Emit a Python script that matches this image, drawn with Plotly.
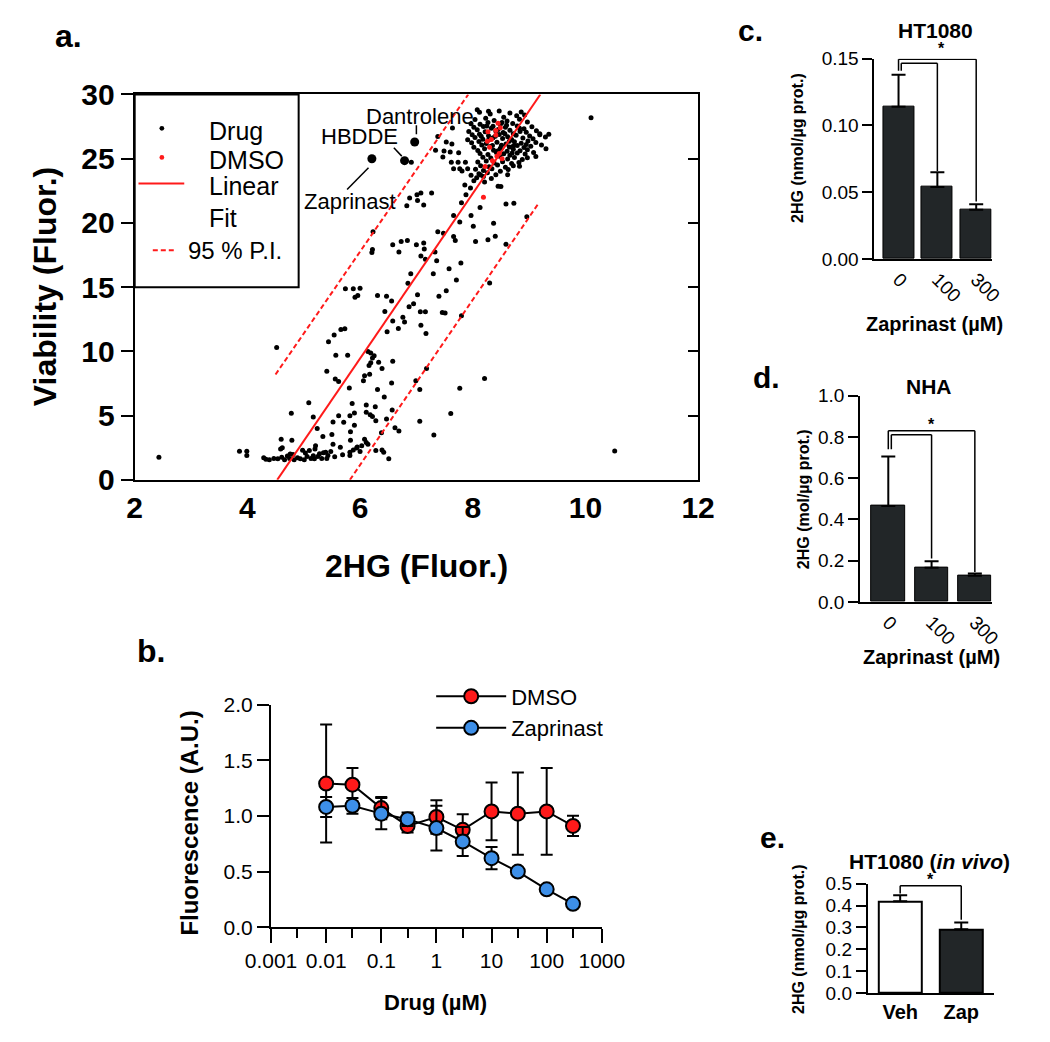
import plotly.graph_objects as go

W, H = 1050, 1042
FONT = "Liberation Sans, Arial, sans-serif"
RED = "#ff1a1a"
BLUE = "#3d8fe8"
DARK = "#222628"


def fx(px):
    return px / W


def fy(py):
    return 1 - py / H


# ---- panel a: screen, 2HG fluorescence vs viability -----------------------------------
drug_x = [
    2.43, 3.86, 3.99, 3.99, 4.29, 4.33, 4.52, 4.60, 4.79, 4.78, 4.59,
    4.39, 4.47, 4.54, 4.61, 4.66, 4.71, 4.75, 4.81, 4.83, 4.89, 4.94, 5.01, 5.06, 5.10,
    5.13, 5.17, 5.19, 5.25, 5.28, 5.32, 5.39, 5.43, 5.41,
    4.62, 4.76, 4.98, 5.03, 5.20, 5.35, 5.48, 5.55,
    5.09, 5.17, 5.24, 5.21, 5.34, 5.50, 5.52, 5.62, 5.71, 5.82, 5.86, 5.81, 5.41, 5.56,
    5.62, 5.57, 5.78, 5.44, 5.54, 5.66, 5.73, 5.52, 5.65, 5.69, 5.82, 5.88, 5.83, 5.83, 5.82,
    5.90, 5.90, 5.94, 5.95, 6.00, 6.03,
    6.08, 6.11, 6.14, 6.06, 6.08, 6.17, 6.16, 6.19, 6.22, 6.25, 6.14, 6.19, 6.33, 6.39,
    6.58, 6.11, 6.11, 6.18, 6.22, 6.27, 6.28, 6.31, 6.43, 6.47, 6.56, 6.57, 6.38, 6.39,
    6.28, 6.42, 6.51, 6.62, 6.69,
    6.99, 7.06, 7.18, 7.06, 7.31, 7.61, 7.77, 8.21,
    6.83, 7.02, 7.13, 7.08, 7.27, 6.23, 6.22, 6.21, 6.58, 6.73, 6.84, 6.69, 7.00, 7.13,
    7.14, 7.08, 7.16, 7.33, 7.36, 7.38, 7.48, 7.66, 7.69, 8.05, 8.27, 7.66, 7.77, 7.80,
    7.88, 7.97, 8.01, 8.13, 7.58, 7.79, 7.30, 6.90, 6.85, 7.71, 7.53, 7.40, 7.02, 6.95,
    6.87, 7.07, 7.16, 7.46, 7.51, 7.80, 6.31, 6.47, 6.56, 6.44, 6.58, 6.76, 6.79, 6.68,
    6.48, 7.08, 7.17, 5.74, 5.88, 6.00, 5.91, 5.96,
    8.96, 8.59, 8.73, 8.37, 8.40, 8.59, 8.30,
    6.91, 7.38, 7.53, 7.34, 7.49, 7.63, 7.60, 7.75, 7.47, 7.62, 7.74, 7.87, 7.66, 7.77,
    7.91, 7.97, 7.86, 7.96, 6.88, 7.01, 7.64, 7.81,
    8.08, 8.28, 8.86, 10.10, 10.52, 9.35, 9.19, 9.30, 9.12, 8.83, 8.62, 8.50, 8.14, 8.45,
    # dense cluster of inactive compounds
    8.12, 8.31, 8.47, 8.66, 8.78, 8.55, 8.92, 8.23, 8.04, 8.38, 8.61, 8.83, 8.97, 8.71,
    8.49, 8.27, 8.13, 7.97, 8.02, 8.19, 8.33, 8.58, 8.66, 8.79, 8.91, 9.05, 9.13, 8.95,
    8.84, 8.72, 8.54, 8.41, 8.22, 8.08, 7.93, 7.99, 8.12, 8.28, 8.47, 8.62, 8.77, 9.01,
    9.19, 9.29, 9.07, 8.89, 8.69, 8.53, 8.36, 8.18, 8.04, 7.91, 7.98, 8.11, 8.24, 8.43,
    8.59, 8.74, 8.86, 8.98, 9.12, 9.22, 9.03, 8.91, 8.79, 8.65, 8.51, 8.31, 8.16, 8.02,
    8.09, 8.21, 8.37, 8.49, 8.61, 8.72, 8.84, 8.97, 9.08, 8.93, 8.79, 8.66, 8.55, 8.42,
    8.27, 8.13, 8.18, 8.32, 8.48, 8.62, 8.74, 8.88, 8.97, 8.82, 8.69, 8.53, 8.38, 8.24,
    8.09, 8.14, 8.29, 8.44, 8.58, 8.72, 8.05, 8.19, 8.34, 8.49, 8.63, 8.11, 8.26, 8.41,
    8.07, 8.19, 8.33, 8.02, 8.21,
    8.36, 8.45, 8.57, 8.65, 8.35, 8.45, 8.72, 8.28, 8.83, 8.52, 8.95, 8.40, 8.60, 8.25,
    8.70, 8.15,
]
drug_y = [
    1.77, 2.23, 2.23, 1.90, 1.72, 1.60, 10.30, 3.16, 3.09, 5.19, 2.40,
    1.57, 1.67, 1.65, 1.77, 1.57, 1.85, 1.67, 1.97, 1.57, 1.72, 1.65, 1.57, 1.82, 2.28,
    1.67, 1.87, 1.65, 1.82, 2.03, 1.67, 2.15, 1.90, 1.67,
    2.50, 2.02, 2.30, 2.10, 2.40, 2.12, 2.20, 1.80,
    6.00, 4.89, 4.00, 2.66, 3.37, 3.54, 4.50, 5.00, 4.48, 4.99, 5.95, 7.16, 8.46, 7.85,
    7.65, 9.70, 9.70, 10.76, 11.27, 11.70, 11.77, 2.78, 2.53, 1.95, 2.15, 2.33, 3.09, 3.75, 1.90,
    5.20, 4.25, 2.48, 2.55, 2.20, 2.66,
    3.16, 2.91, 2.78, 7.72, 8.10, 8.23, 8.91, 9.11, 9.49, 9.67, 10.00, 9.87, 9.16, 8.66,
    9.24, 5.82, 5.27, 5.06, 4.94, 5.70, 4.61, 7.04, 6.46, 4.73, 7.54, 5.44, 3.67, 2.33,
    2.28, 2.15, 1.65, 4.05, 3.80,
    7.72, 7.04, 8.66, 4.56, 3.49, 5.16, 7.14, 7.90,
    21.33, 21.75, 21.40, 22.33, 22.33, 19.32, 17.94, 17.69, 18.31, 18.56, 18.63, 17.74, 18.31, 18.44,
    17.98, 17.43, 17.18, 17.74, 17.05, 19.32, 19.19, 18.94, 18.63, 18.56, 18.69, 20.57, 20.07, 21.58,
    22.20, 20.57, 19.74, 21.20, 16.43, 16.88, 16.05, 16.05, 15.30, 15.55, 14.72, 14.29, 14.41, 13.71,
    13.48, 13.08, 13.08, 13.03, 12.98, 12.78, 14.36, 14.29, 13.92, 13.10, 12.36, 12.66, 12.28, 11.78,
    11.53, 12.03, 11.40, 14.87, 14.87, 14.92, 14.22, 14.36,
    20.48, 21.48, 21.53, 19.97, 18.97, 18.34, 15.33,
    24.72, 26.73, 26.30, 25.65, 25.60, 26.15, 25.53, 25.47, 25.13, 24.72, 24.72, 24.72, 24.21, 24.21,
    24.21, 23.71, 22.96, 22.71, 21.95, 22.20, 27.39, 24.05,
    28.82, 28.69, 28.64, 28.18, 2.24, 26.90, 26.86, 25.77, 25.17, 24.41, 23.76, 22.83, 23.74, 22.86,
    28.62, 28.48, 28.71, 28.55, 28.34, 28.22, 28.41, 28.15, 28.05, 27.98, 27.93, 28.08, 27.86, 27.74,
    27.66, 27.81, 27.69, 27.72, 27.45, 27.51, 27.38, 27.44, 27.21, 27.55, 27.33, 27.49, 27.18, 27.05,
    27.12, 26.94, 27.03, 27.15, 27.09, 27.26, 27.11, 26.86, 26.91, 26.79, 26.88, 26.71, 26.82, 26.77,
    26.95, 26.68, 26.56, 26.62, 26.49, 26.58, 26.63, 26.52, 26.66, 26.47, 26.24, 26.33, 26.18, 26.29,
    26.14, 26.31, 26.21, 26.38, 26.27, 26.06, 25.97, 25.88, 26.02, 25.91, 26.04, 25.95, 26.07, 25.89,
    25.64, 25.77, 25.66, 25.81, 25.58, 25.73, 25.62, 25.69, 25.49, 25.36, 25.44, 25.27, 25.39, 25.48,
    25.33, 25.41, 25.12, 25.05, 25.19, 24.98, 25.09, 24.93, 25.07, 24.71, 24.62, 24.77, 24.66, 24.83,
    24.74, 24.45, 24.38, 24.51, 24.33, 24.46, 24.18, 24.09, 24.22, 24.03, 24.15, 23.82, 23.91, 23.76,
    23.52, 23.61, 23.45, 23.28, 23.19,
    27.52, 27.27, 26.95, 26.36, 26.02, 25.62, 25.98, 26.45, 27.38, 27.82, 26.10, 26.75, 27.60, 27.55,
    25.45, 26.75,
]
dmso_x = [8.27, 8.33, 8.41, 8.49, 8.41, 8.26, 8.43, 8.35, 8.52, 8.22, 8.19, 8.45, 8.47, 8.30]
dmso_y = [27.10, 26.50, 27.20, 27.40, 26.85, 26.35, 25.20, 24.85, 25.00, 24.40, 22.00, 27.75, 25.40, 25.90]
hit_names = ["Zaprinast", "HBDDE", "Dantrolene"]
hit_x = [6.21, 6.79, 6.97]
hit_y = [25.00, 24.85, 26.30]
fit_x = [4.53, 9.20]
fit_y = [0.0, 30.0]
pi_upper_x = [4.50, 7.92]
pi_upper_y = [8.2, 30.0]
pi_lower_x = [5.82, 9.18]
pi_lower_y = [0.0, 21.6]

# ---- panel b: dose response ------------------------------------------------------------
dose_um = [0.01, 0.03, 0.1, 0.3, 1, 3, 10, 30, 100, 300]
dmso_mean = [1.29, 1.28, 1.07, 0.91, 0.99, 0.875, 1.04, 1.02, 1.04, 0.91]
dmso_err = [0.53, 0.15, 0.10, 0.06, 0.15, 0.14, 0.26, 0.37, 0.39, 0.09]
zap_mean = [1.08, 1.09, 1.02, 0.97, 0.89, 0.77, 0.62, 0.50, 0.34, 0.21]
zap_err = [0.09, 0.07, 0.14, 0.06, 0.20, 0.13, 0.10, 0.02, 0.03, 0.02]
dose_ticks = [0.001, 0.01, 0.1, 1, 10, 100, 1000]
dose_ticktext = ["0.001", "0.01", "0.1", "1", "10", "100", "1000"]
dose_minor = [0.003, 0.03, 0.3, 3, 30, 300]

# ---- panels c-e: 2HG levels -------------------------------------------------------------
zap_conc = ["0", "100", "300"]
ht1080_2hg = [0.114, 0.054, 0.037]
ht1080_err = [0.024, 0.011, 0.004]
nha_2hg = [0.465, 0.166, 0.127]
nha_err = [0.24, 0.031, 0.010]
invivo_groups = ["Veh", "Zap"]
invivo_2hg = [0.42, 0.292]
invivo_err = [0.027, 0.031]

fig = go.Figure()

# panel a
fig.add_trace(go.Scatter(x=drug_x, y=drug_y, mode="markers", xaxis="x", yaxis="y",
                         marker=dict(color="black", size=5), showlegend=False))
fig.add_trace(go.Scatter(x=fit_x, y=fit_y, mode="lines", xaxis="x", yaxis="y",
                         line=dict(color=RED, width=2), showlegend=False))
for px_, py_ in [(pi_upper_x, pi_upper_y), (pi_lower_x, pi_lower_y)]:
    fig.add_trace(go.Scatter(x=px_, y=py_, mode="lines", xaxis="x", yaxis="y",
                             line=dict(color=RED, width=2, dash="5px,3px"), showlegend=False))
fig.add_trace(go.Scatter(x=dmso_x, y=dmso_y, mode="markers", xaxis="x", yaxis="y",
                         marker=dict(color=RED, size=5), showlegend=False))
fig.add_trace(go.Scatter(x=hit_x, y=hit_y, mode="markers", xaxis="x", yaxis="y",
                         marker=dict(color="black", size=9), showlegend=False))
# right-hand inward ticks of panel a
fig.add_trace(go.Scatter(x=[None], y=[None], xaxis="x", yaxis="y6", showlegend=False))

# panel b
fig.add_trace(go.Scatter(
    x=dose_um, y=dmso_mean, name="DMSO", mode="lines+markers", xaxis="x2", yaxis="y2",
    line=dict(color="black", width=2),
    marker=dict(color=RED, size=14, line=dict(color="black", width=2)),
    error_y=dict(type="data", array=dmso_err, color="black", thickness=2, width=6)))
fig.add_trace(go.Scatter(
    x=dose_um, y=zap_mean, name="Zaprinast", mode="lines+markers", xaxis="x2", yaxis="y2",
    line=dict(color="black", width=2),
    marker=dict(color=BLUE, size=14, line=dict(color="black", width=2)),
    error_y=dict(type="data", array=zap_err, color="black", thickness=2, width=6)))


def bar_err(err):
    return dict(type="data", array=err, arrayminus=[0] * len(err), symmetric=False,
                color="black", thickness=2, width=7)


fig.add_trace(go.Bar(x=[0, 1, 2], y=ht1080_2hg, width=0.8, xaxis="x3", yaxis="y3",
                     marker=dict(color=DARK, line=dict(color="black", width=1)),
                     error_y=bar_err(ht1080_err), showlegend=False))
fig.add_trace(go.Bar(x=[0, 1, 2], y=nha_2hg, width=0.77, xaxis="x4", yaxis="y4",
                     marker=dict(color=DARK, line=dict(color="black", width=1)),
                     error_y=bar_err(nha_err), showlegend=False))
fig.add_trace(go.Bar(x=[0, 1], y=invivo_2hg, width=0.7, xaxis="x5", yaxis="y5",
                     marker=dict(color=["white", DARK], line=dict(color="black", width=2)),
                     error_y=bar_err(invivo_err), showlegend=False))

ax = dict(showline=True, linecolor="black", linewidth=2, showgrid=False, zeroline=False,
          ticks="outside", tickcolor="black", tickwidth=2, ticklen=10)
big_tick = dict(family=FONT, size=30, color="black", weight="bold")
small_tick = dict(family=FONT, size=19, color="black")
b_tick = dict(family=FONT, size=21, color="black")

fig.update_layout(
    width=W, height=H, margin=dict(l=0, r=0, t=0, b=0),
    paper_bgcolor="white", plot_bgcolor="white",
    font=dict(family=FONT, color="black"),
    bargap=0,
    xaxis=dict(ax, domain=[fx(114), fx(705)], range=[2, 12], dtick=2, anchor="y",
               mirror=True, ticks="", tickfont=big_tick),
    yaxis=dict(ax, domain=[fy(478), fy(80)], range=[0, 30], dtick=5, anchor="x",
               mirror=True, ticklen=12, tickfont=big_tick),
    yaxis6=dict(overlaying="y", side="right", anchor="x", range=[0, 30], dtick=5,
                ticks="inside", ticklen=10, tickwidth=2, tickcolor="black",
                showticklabels=False, showgrid=False, zeroline=False, showline=False),
    xaxis2=dict(ax, type="log", domain=[fx(257), fx(604)], range=[-3, 3], anchor="y2",
                tickvals=dose_ticks, ticktext=dose_ticktext, ticklen=14, tickfont=b_tick,
                minor=dict(tickvals=dose_minor, ticks="outside", ticklen=9, tickwidth=2,
                           tickcolor="black")),
    yaxis2=dict(ax, domain=[fy(940), fy(710)], range=[0, 2], dtick=0.5, tickformat=".1f",
                anchor="x2", ticklen=12, tickfont=b_tick),
    xaxis3=dict(ax, domain=[fx(890), fx(1013)], range=[-0.62, 2.4], anchor="y3",
                tickvals=[0, 1, 2], ticktext=zap_conc, tickangle=45, ticks="",
                tickfont=small_tick),
    yaxis3=dict(ax, domain=[fy(250), fy(43)], range=[0, 0.15], dtick=0.05, tickformat=".2f",
                anchor="x3", tickfont=small_tick),
    xaxis4=dict(ax, domain=[fx(875), fx(1013)], range=[-0.65, 2.39], anchor="y4",
                tickvals=[0, 1, 2], ticktext=zap_conc, tickangle=45, ticks="",
                tickfont=small_tick),
    yaxis4=dict(ax, domain=[fy(604), fy(391)], range=[0, 1.0], dtick=0.2, tickformat=".1f",
                anchor="x4", tickfont=small_tick),
    xaxis5=dict(ax, domain=[fx(883), fx(1015)], range=[-0.53, 1.53], anchor="y5",
                tickvals=[0, 1], ticktext=invivo_groups, ticks="",
                tickfont=dict(family=FONT, size=20, color="black", weight="bold")),
    yaxis5=dict(ax, domain=[fy(1008), fy(895)], range=[0, 0.5], dtick=0.1, tickformat=".1f",
                anchor="x5", tickfont=small_tick),
    legend=dict(x=fx(425), y=fy(680), xanchor="left", yanchor="top", itemwidth=70,
                font=dict(family=FONT, size=22, color="black"), bgcolor="rgba(0,0,0,0)",
                tracegroupgap=0),
)

shapes = []
ann = []


def text(x, y, s, size, bold=False, angle=0, xanchor="center", xref="paper", yref="paper"):
    ann.append(dict(x=x, y=y, xref=xref, yref=yref, text=s, showarrow=False, textangle=angle,
                    xanchor=xanchor, yanchor="middle",
                    font=dict(family=FONT, size=size, color="black",
                              weight="bold" if bold else "normal")))


def seg(x0, y0, x1, y1, xref, yref, color="black", width=1.5, dash=None):
    line = dict(color=color, width=width)
    if dash:
        line["dash"] = dash
    shapes.append(dict(type="line", x0=x0, y0=y0, x1=x1, y1=y1, xref=xref, yref=yref,
                       line=line, layer="above"))


# panel letters
text(fx(28), fy(20), "a.", 32, True, xanchor="left")
text(fx(114), fy(655), "b.", 32, True, xanchor="left")
text(fx(745), fy(14), "c.", 30, True, xanchor="left")
text(fx(760), fy(372), "d.", 30, True, xanchor="left")
text(fx(768), fy(847), "e.", 30, True, xanchor="left")

# panel a labels and legend box
text(fx(20), fy(279), "Viability (Fluor.)", 32, True, angle=-90)
text(fx(410), fy(567), "2HG (Fluor.)", 32, True)
shapes.append(dict(type="rect", xref="paper", yref="paper", x0=fx(114), x1=fx(286),
                   y0=fy(279), y1=fy(80), line=dict(color="black", width=2),
                   fillcolor="white", layer="below"))
for cy, col in [(115, "black"), (145, RED)]:
    shapes.append(dict(type="circle", xref="paper", yref="paper", x0=fx(140), x1=fx(145),
                       y0=fy(cy + 2.5), y1=fy(cy - 2.5), fillcolor=col, line=dict(width=0)))
text(fx(190), fy(118), "Drug", 25, xanchor="left")
text(fx(190), fy(148), "DMSO", 25, xanchor="left")
seg(fx(118), fy(172), fx(166), fy(172), "paper", "paper", RED, 2)
text(fx(190), fy(175), "Linear", 25, xanchor="left")
text(fx(190), fy(208), "Fit", 25, xanchor="left")
seg(fx(133), fy(241), fx(155), fy(241), "paper", "paper", RED, 2, "5px,3px")
text(fx(168), fy(241), "95 % P.I.", 24, xanchor="left")

# hit labels with leader lines
text(5.82, 21.7, hit_names[0], 22, xref="x", yref="y")
text(5.99, 26.75, hit_names[1], 22, xref="x", yref="y")
text(7.06, 28.3, hit_names[2], 22, xref="x", yref="y")
seg(6.15, 24.3, 5.77, 22.6, "x", "y")
seg(6.60, 25.85, 6.74, 25.2, "x", "y")
seg(7.00, 27.6, 7.00, 26.9, "x", "y")

# panel b labels
text(fx(172), fy(832), "Fluorescence (A.U.)", 24, True, angle=-90)
text(fx(430), fy(1018), "Drug (µM)", 22, True)

# panel c
text(fx(954), fy(14), "HT1080", 21, True)
text(fx(810), fy(135), "2HG (nmol/µg prot.)", 16, True, angle=-90)
text(fx(953), fy(317), "Zaprinast (µM)", 20, True)
seg(0, 0.1495, 2, 0.1495, "x3", "y3")
seg(0.07, 0.1465, 1, 0.1465, "x3", "y3")
seg(0, 0.1495, 0, 0.141, "x3", "y3")
seg(0.07, 0.1465, 0.07, 0.141, "x3", "y3")
seg(1, 0.1465, 1, 0.066, "x3", "y3")
seg(2, 0.1495, 2, 0.043, "x3", "y3")
text(1.1, 1.05, "*", 16, True, xref="x3", yref="y3 domain")

# panel d
text(fx(947), fy(382), "NHA", 21, True)
text(fx(815), fy(498), "2HG (mol/µg prot.)", 16, True, angle=-90)
text(fx(950), fy(661), "Zaprinast (µM)", 20, True)
seg(0, 0.83, 2, 0.83, "x4", "y4")
seg(0.07, 0.81, 1, 0.81, "x4", "y4")
seg(0, 0.83, 0, 0.74, "x4", "y4")
seg(0.07, 0.81, 0.07, 0.74, "x4", "y4")
seg(1, 0.81, 1, 0.21, "x4", "y4")
seg(2, 0.83, 2, 0.145, "x4", "y4")
text(1.0, 0.86, "*", 16, True, xref="x4", yref="y4")

# panel e
text(fx(948), fy(872), "HT1080 (<i>in vivo</i>)", 21, True)
text(fx(811), fy(952), "2HG (nmol/µg prot.)", 16, True, angle=-90)
seg(0, 0.49, 1, 0.49, "x5", "y5")
seg(0, 0.49, 0, 0.455, "x5", "y5")
seg(1, 0.49, 1, 0.335, "x5", "y5")
text(0.5, 1.035, "*", 16, True, xref="x5", yref="y5 domain")

fig.update_layout(shapes=shapes, annotations=ann)
fig.write_html("out.html", config={"displayModeBar": False},
               post_script="document.body.style.margin='0';")
